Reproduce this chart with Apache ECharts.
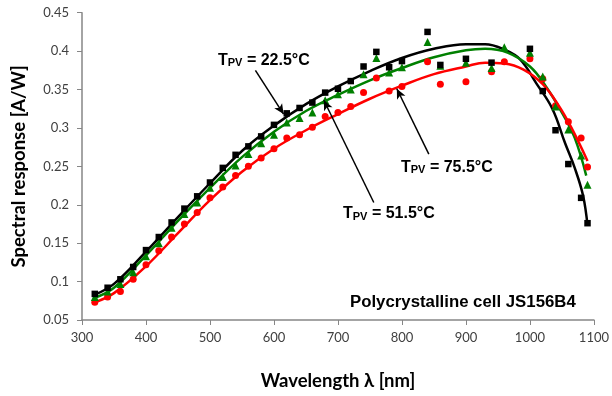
<!DOCTYPE html>
<html>
<head>
<meta charset="utf-8">
<script src="https://cdn.jsdelivr.net/npm/echarts@6/dist/echarts.min.js"></script>
<style>
  html, body { margin: 0; padding: 0; background: #fff; }
  #chart { width: 612px; height: 396px; }
</style>
</head>
<body>
<div id="chart"></div>
<script>
// measured points [wavelength nm, A/W]
const pts22 = [[320,0.084],[340,0.092],[360,0.103],[380,0.119],[400,0.141],[420,0.158],[440,0.177],[460,0.195],[480,0.211],[500,0.229],[520,0.248],[540,0.265],[560,0.276],[580,0.289],[600,0.304],[620,0.319],[640,0.326],[660,0.333],[680,0.346],[700,0.351],[720,0.361],[740,0.380],[760,0.399],[780,0.379],[800,0.387],[840,0.425],[860,0.382],[900,0.390],[940,0.385],[1000,0.403],[1020,0.348],[1040,0.297],[1060,0.253],[1080,0.209],[1090,0.176]]
const pts51 = [[320,0.080],[340,0.087],[360,0.097],[380,0.112],[400,0.133],[420,0.150],[440,0.170],[460,0.188],[480,0.203],[500,0.222],[520,0.236],[540,0.251],[560,0.266],[580,0.280],[600,0.291],[620,0.307],[640,0.313],[660,0.320],[680,0.336],[700,0.344],[720,0.350],[740,0.370],[760,0.391],[780,0.372],[800,0.379],[840,0.412],[860,0.381],[900,0.385],[940,0.378],[960,0.405],[1000,0.398],[1020,0.367],[1040,0.328],[1060,0.298],[1080,0.264],[1090,0.226]]
const pts75 = [[320,0.073],[340,0.080],[360,0.087],[380,0.103],[400,0.122],[420,0.140],[440,0.158],[460,0.175],[480,0.190],[500,0.209],[520,0.223],[540,0.238],[560,0.250],[580,0.261],[600,0.273],[620,0.287],[640,0.291],[660,0.301],[680,0.315],[700,0.320],[720,0.328],[740,0.346],[760,0.365],[780,0.348],[800,0.354],[840,0.386],[860,0.357],[900,0.360],[940,0.373],[960,0.386],[1000,0.390],[1020,0.364],[1040,0.329],[1060,0.308],[1080,0.287],[1090,0.249]]

// fitted curves
const fit22 = [[320,0.083],[350,0.097],[400,0.139],[450,0.184],[500,0.228],[550,0.270],[600,0.303],[650,0.331],[700,0.354],[750,0.374],[800,0.391],[850,0.403],[900,0.409],[930,0.409],[960,0.402],[985,0.389],[1010,0.358],[1035,0.325],[1055,0.280],[1070,0.248],[1083,0.212],[1090,0.173]]
const fit51 = [[320,0.079],[350,0.092],[400,0.134],[450,0.179],[500,0.222],[550,0.262],[600,0.295],[650,0.322],[700,0.343],[750,0.362],[800,0.378],[850,0.392],[900,0.401],[930,0.403],[965,0.398],[1000,0.380],[1025,0.354],[1050,0.320],[1070,0.287],[1088,0.238]]
const fit75 = [[320,0.073],[350,0.085],[400,0.120],[450,0.163],[500,0.206],[550,0.243],[600,0.273],[650,0.297],[700,0.318],[750,0.338],[800,0.355],[850,0.370],[900,0.380],[930,0.385],[960,0.384],[990,0.376],[1020,0.357],[1045,0.329],[1065,0.300],[1090,0.257]]

const labels = ['22.5', '51.5', '75.5']

const chart = echarts.init(document.getElementById('chart'))

const lblRich = {
    t: { fontSize: 16, fontWeight: 'bold', fontFamily: 'Liberation Sans', color: '#000', lineHeight: 16, verticalAlign: 'middle' },
    s: { fontSize: 11, fontWeight: 'bold', fontFamily: 'Liberation Sans', color: '#000', lineHeight: 7, verticalAlign: 'bottom' }
}
function tpv(v) {
    return '{t|T}{s|PV}{t| = ' + v + '°C}'
}

function arrow(from, to) {
    return {
        silent: true,
        symbol: ['none', 'arrow'],
        symbolSize: [7, 10],
        label: { show: false },
        lineStyle: { color: '#000', width: 1.5, type: 'solid' },
        data: [[{ coord: from }, { coord: to }]]
    }
}

const option = {
    animation: false,
    backgroundColor: '#fff',
    grid: { left: 82, right: 17.5, top: 12.7, bottom: 75.3 },
    xAxis: {
        type: 'value',
        min: 300,
        max: 1100,
        interval: 100,
        name: 'Wavelength λ [nm]',
        nameLocation: 'middle',
        nameGap: 52,
        nameTextStyle: { fontFamily: 'Lato', fontWeight: 'bold', fontSize: 18.5, color: '#000' },
        axisLine: { lineStyle: { color: '#868686', width: 1.5 } },
        axisTick: { show: true, length: 5, lineStyle: { color: '#868686' } },
        axisLabel: { fontFamily: 'Lato', fontSize: 13, color: '#404040', margin: 11, formatter: (v) => String(v) },
        splitLine: { show: false }
    },
    yAxis: {
        type: 'value',
        min: 0.05,
        max: 0.45,
        interval: 0.05,
        name: 'Spectral response [A/W]',
        nameLocation: 'middle',
        nameGap: 53,
        nameTextStyle: { fontFamily: 'Lato', fontWeight: 'bold', fontSize: 18.5, color: '#000' },
        axisLine: { show: true, lineStyle: { color: '#868686', width: 1.5 } },
        axisTick: { show: true, length: 5, lineStyle: { color: '#868686' } },
        axisLabel: { fontFamily: 'Lato', fontSize: 13, color: '#404040', margin: 13 },
        splitLine: { show: false }
    },
    series: [
        {
            name: 'fit ' + labels[0], type: 'line', data: fit22, smooth: 0.4, showSymbol: false,
            lineStyle: { color: '#000', width: 2.5 }, z: 2,
            markLine: arrow([571, 0.375], [615, 0.318])
        },
        {
            name: 'fit ' + labels[1], type: 'line', data: fit51, smooth: 0.4, showSymbol: false,
            lineStyle: { color: '#008000', width: 2.5 }, z: 2,
            markLine: arrow([756, 0.203], [678, 0.336])
        },
        {
            name: 'fit ' + labels[2], type: 'line', data: fit75, smooth: 0.4, showSymbol: false,
            lineStyle: { color: '#ff0000', width: 2.5 }, z: 2,
            markLine: arrow([842, 0.266], [792, 0.351])
        },
        {
            name: labels[2], type: 'scatter', data: pts75, symbol: 'circle', symbolSize: 7,
            itemStyle: { color: '#ff0000', opacity: 1 }, z: 3
        },
        {
            name: labels[1], type: 'scatter', data: pts51, symbol: 'triangle', symbolSize: 8,
            itemStyle: { color: '#008000', opacity: 1 }, z: 4
        },
        {
            name: labels[0], type: 'scatter', data: pts22, symbol: 'rect', symbolSize: 6.5,
            itemStyle: { color: '#000', opacity: 1 }, z: 5
        }
    ],
    graphic: [
        { type: 'text', x: 218, y: 60.5, z: 10, style: { text: tpv(labels[0]), rich: lblRich, verticalAlign: 'middle' } },
        { type: 'text', x: 401, y: 167.5, z: 10, style: { text: tpv(labels[2]), rich: lblRich, verticalAlign: 'middle' } },
        { type: 'text', x: 343, y: 214, z: 10, style: { text: tpv(labels[1]), rich: lblRich, verticalAlign: 'middle' } },
        {
            type: 'text', x: 350, y: 302.5, z: 10,
            style: { text: 'Polycrystalline cell JS156B4', fontFamily: 'Liberation Sans', fontWeight: 'bold', fontSize: 16.8, fill: '#000', verticalAlign: 'middle' }
        }
    ]
}
chart.setOption(option)
</script>
</body>
</html>
